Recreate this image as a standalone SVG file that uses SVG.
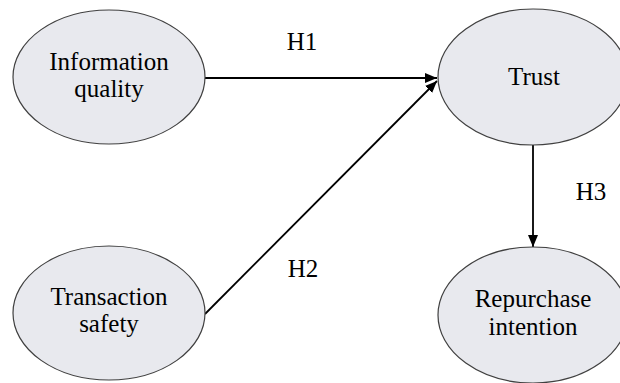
<svg xmlns="http://www.w3.org/2000/svg" width="620" height="383" viewBox="0 0 620 383">
<defs>
<style>
.node ellipse{fill:#e8e9ee;stroke:#404040;stroke-width:1.2}
.conn line{stroke:#000;stroke-width:1.8;fill:none}
.t{font-family:"Liberation Serif","Times New Roman",serif;font-size:25px;text-anchor:middle;fill:#000}
</style>
<marker id="ah" viewBox="0 0 12 10" refX="12" refY="5" markerWidth="12" markerHeight="10" markerUnits="userSpaceOnUse" orient="auto">
<path d="M0,0 L12,5 L0,10 Z" fill="#000"/>
</marker>
</defs>
<rect width="620" height="383" fill="#fff"/>
<g id="connectors" class="conn">
<line x1="205" y1="78" x2="437" y2="78" marker-end="url(#ah)"/>
<line x1="205" y1="314" x2="437" y2="81" marker-end="url(#ah)"/>
<line x1="533" y1="145" x2="533" y2="247" marker-end="url(#ah)"/>
</g>
<g id="information-quality" class="node">
<ellipse cx="109" cy="77" rx="96" ry="67"/>
<text class="t" x="109" y="70">Information</text>
<text class="t" x="109" y="97">quality</text>
</g>
<g id="trust" class="node">
<ellipse cx="533" cy="77" rx="95" ry="68"/>
<text class="t" x="534" y="85">Trust</text>
</g>
<g id="transaction-safety" class="node">
<ellipse cx="109" cy="313" rx="96" ry="67"/>
<text class="t" x="109" y="305">Transaction</text>
<text class="t" x="109" y="332">safety</text>
</g>
<g id="repurchase-intention" class="node">
<ellipse cx="533" cy="315" rx="95" ry="68"/>
<text class="t" x="533" y="307">Repurchase</text>
<text class="t" x="533" y="335">intention</text>
</g>
<g id="labels">
<text class="t" x="302" y="50">H1</text>
<text class="t" x="303" y="277">H2</text>
<text class="t" x="591" y="200">H3</text>
</g>
</svg>
